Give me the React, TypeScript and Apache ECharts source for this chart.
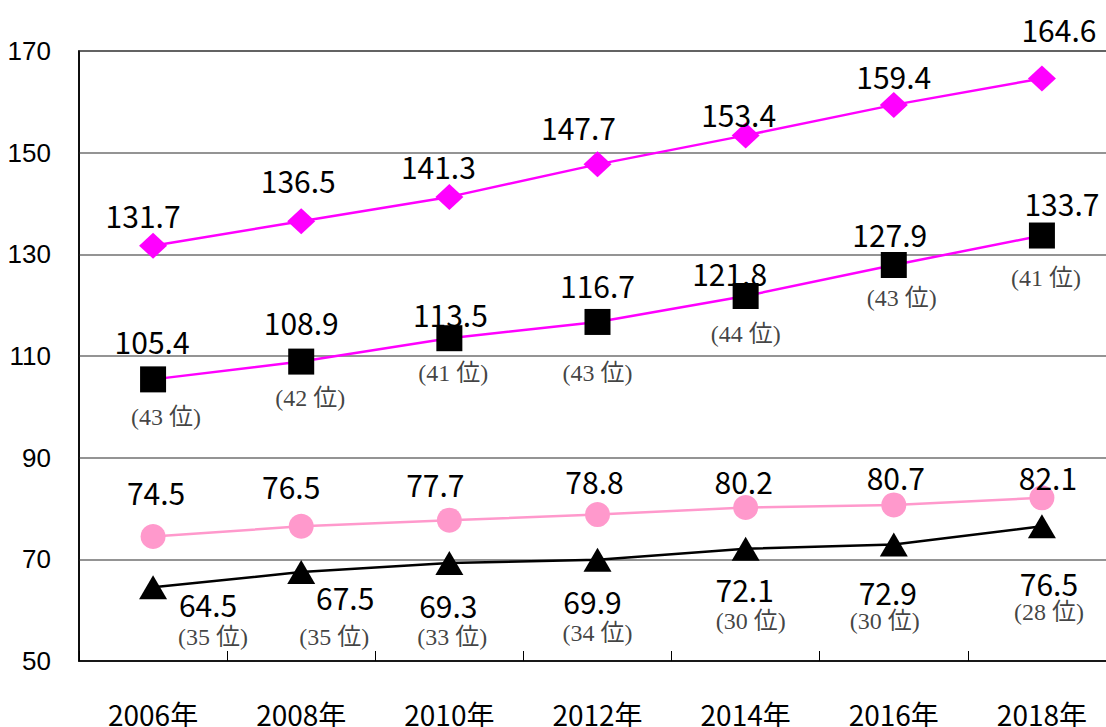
import React, { useEffect, useRef } from "react";
import * as echarts from "echarts";

// ---- data ----
const years = ["2006年", "2008年", "2010年", "2012年", "2014年", "2016年", "2018年"];
const diamondValues = [131.7, 136.5, 141.3, 147.7, 153.4, 159.4, 164.6];
const squareValues = [105.4, 108.9, 113.5, 116.7, 121.8, 127.9, 133.7];
const squareRanks = [43, 42, 41, 43, 44, 43, 41];
const circleValues = [74.5, 76.5, 77.7, 78.8, 80.2, 80.7, 82.1];
const triangleValues = [64.5, 67.5, 69.3, 69.9, 72.1, 72.9, 76.5];
const triangleRanks = [35, 35, 33, 34, 30, 30, 28];
const yMin = 50;
const yMax = 170;
const yStep = 20;

// ---- label placement (pixel offsets from marker centre) ----
const diamondLabelOffsets = [[-10, -31], [-3, -41], [-11, -31], [-19, -37], [-7, -21], [0, -29], [17, -49]];
const squareLabelOffsets = [[-1, -38], [0, -40], [1, -24], [0, -37], [-16, -23], [-4, -31], [20, -33]];
const squareRankOffsets = [[13, 38], [9, 36], [4, 35], [0, 51], [0, 38], [8, 33], [4, 42]];
const circleLabelOffsets = [[3, -44], [-10, -40], [-14, -36], [-3, -34], [-2, -26], [2, -28], [6, -21]];
const triangleLabelOffsets = [[55, 17], [44, 25], [-1, 42], [-5, 41], [-1, 40], [-6, 47], [7, 57]];
const triangleRankOffsets = [[60, 50], [33, 65], [3, 74], [0, 73], [5, 72], [-9, 76], [7, 86]];

const VALUE_FONT = "'Noto Sans CJK JP', 'Noto Sans', sans-serif";
const RANK_FONT = "'Liberation Serif', 'DejaVu Serif', 'Noto Sans CJK JP', serif";

function valueItems(values: number[], offsets: number[][]) {
  return values.map((v, i) => ({
    value: v,
    label: { offset: offsets[i] },
  }));
}

function rankItems(values: number[], ranks: number[], offsets: number[][]) {
  return values.map((v, i) => ({
    value: v,
    rank: ranks[i],
    label: { offset: offsets[i] },
  }));
}

const valueLabel = {
  show: true,
  position: "inside",
  color: "#000",
  fontSize: 30,
  fontFamily: VALUE_FONT,
  formatter: (p: any) => Number(p.value).toFixed(1),
};

const rankLabel = {
  show: true,
  position: "inside",
  color: "#111",
  fontSize: 24,
  fontFamily: RANK_FONT,
  formatter: (p: any) => `(${p.data.rank} 位)`,
};

export default function App() {
  const ref = useRef<HTMLDivElement>(null);

  useEffect(() => {
    if (!ref.current) return;
    const chart = echarts.init(ref.current, null, { renderer: "svg" });
    chart.setOption({
      animation: false,
      backgroundColor: "#fff",
      grid: {
        left: 79,
        right: -10,
        top: 51,
        bottom: 66,
        containLabel: false,
        outerBoundsMode: "none",
        show: true,
        borderColor: "#000",
        borderWidth: 1.5,
        backgroundColor: "transparent",
      },
      xAxis: {
        type: "category",
        data: years,
        boundaryGap: true,
        axisLine: { show: true, lineStyle: { color: "#000", width: 1.5 } },
        axisTick: { show: true, inside: true, length: 10, lineStyle: { color: "#000", width: 1 } },
        axisLabel: { color: "#000", fontSize: 28, margin: 39, fontFamily: VALUE_FONT },
        splitLine: { show: false },
      },
      yAxis: {
        type: "value",
        min: yMin,
        max: yMax,
        interval: yStep,
        axisLine: { show: true, lineStyle: { color: "#000", width: 1.5 } },
        axisTick: { show: false },
        axisLabel: { color: "#000", fontSize: 26, margin: 28, fontFamily: "'Liberation Sans', Arial, sans-serif" },
        splitLine: { show: true, lineStyle: { color: "#707070", width: 1.5 } },
      },
      series: [
        {
          type: "line",
          data: valueItems(diamondValues, diamondLabelOffsets),
          symbol: "diamond",
          symbolSize: [28, 26],
          itemStyle: { color: "#FF00FF" },
          lineStyle: { color: "#FF00FF", width: 2.5 },
          label: valueLabel,
          z: 3,
        },
        {
          type: "line",
          data: valueItems(squareValues, squareLabelOffsets),
          symbol: "rect",
          symbolSize: 26,
          itemStyle: { color: "#000" },
          lineStyle: { color: "#FF00FF", width: 2.5 },
          label: valueLabel,
          z: 3,
        },
        {
          type: "scatter",
          data: rankItems(squareValues, squareRanks, squareRankOffsets),
          symbolSize: 1,
          itemStyle: { color: "rgba(0,0,0,0)" },
          label: rankLabel,
          z: 4,
        },
        {
          type: "line",
          data: valueItems(circleValues, circleLabelOffsets),
          symbol: "circle",
          symbolSize: 25,
          itemStyle: { color: "#FF99CC" },
          lineStyle: { color: "#FF99CC", width: 2.5 },
          label: valueLabel,
          z: 3,
        },
        {
          type: "line",
          data: valueItems(triangleValues, triangleLabelOffsets),
          symbol: "triangle",
          symbolSize: [28, 24],
          itemStyle: { color: "#000" },
          lineStyle: { color: "#000", width: 2.5 },
          label: valueLabel,
          z: 3,
        },
        {
          type: "scatter",
          data: rankItems(triangleValues, triangleRanks, triangleRankOffsets),
          symbolSize: 1,
          itemStyle: { color: "rgba(0,0,0,0)" },
          label: rankLabel,
          z: 4,
        },
      ],
    });
    return () => chart.dispose();
  }, []);

  return (
    <div
      ref={ref}
      style={{ position: "absolute", left: 0, top: 0, width: 1106, height: 727 }}
    />
  );
}
